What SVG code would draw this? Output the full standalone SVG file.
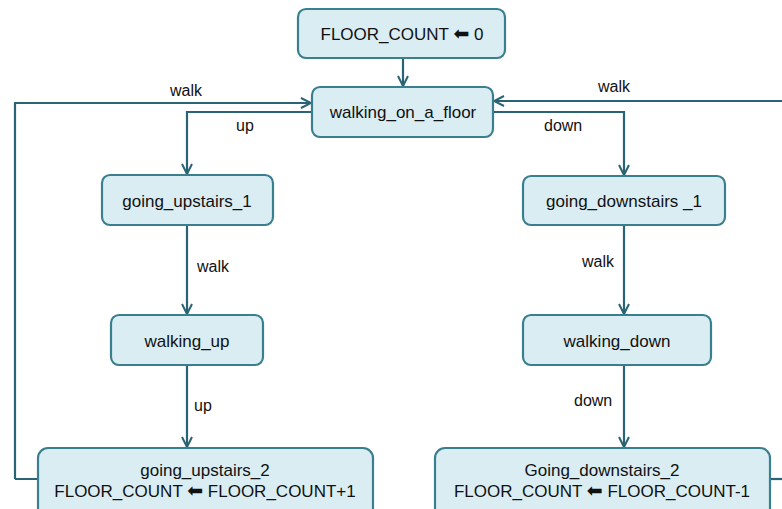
<svg xmlns="http://www.w3.org/2000/svg" width="782" height="509" viewBox="0 0 782 509">
  <style>
    .node rect { fill: #daedf3; stroke: #3a7f8e; stroke-width: 2.2; }
    .node text { font-family: "Liberation Sans", Arial, sans-serif; font-size: 17px; fill: #111; text-anchor: middle; }
    .arr { font-family: "DejaVu Sans", sans-serif; font-size: 19px; }
    .edge { fill: none; stroke: #2a6373; stroke-width: 2.2; marker-end: url(#head); }
    .plain { fill: none; stroke: #2a6373; stroke-width: 2.2; }
    .lbl { font-family: "Liberation Sans", Arial, sans-serif; font-size: 16px; fill: #111; }
  </style>
  <defs>
    <marker id="head" viewBox="0 0 12 12" refX="11" refY="6" markerWidth="12" markerHeight="12" markerUnits="userSpaceOnUse" orient="auto">
      <path d="M1,1 L11,6 L1,11" fill="none" stroke="#2a6373" stroke-width="2"/>
    </marker>
  </defs>

  <g id="connectors">
    <path class="edge" d="M403,58 V86"/>
    <path class="edge" d="M15,479 H38 M15,479 V103 H311"/>
    <path class="edge" d="M312,112 H187 V174"/>
    <path class="edge" d="M790,101 H494"/>
    <path class="plain" d="M770,479 H790"/>
    <path class="edge" d="M493,112 H624 V175"/>
    <path class="edge" d="M187,225 V314"/>
    <path class="edge" d="M187,365 V447"/>
    <path class="edge" d="M624,225 V314"/>
    <path class="edge" d="M624,365 V447"/>
    <text class="lbl" x="170" y="96">walk</text>
    <text class="lbl" x="236" y="131">up</text>
    <text class="lbl" x="598" y="92">walk</text>
    <text class="lbl" x="544" y="131">down</text>
    <text class="lbl" x="197" y="272">walk</text>
    <text class="lbl" x="582" y="267">walk</text>
    <text class="lbl" x="194" y="411">up</text>
    <text class="lbl" x="574" y="406">down</text>
  </g>

  <g id="init" class="node">
    <rect x="298" y="9" width="207" height="49" rx="8"/>
    <text x="402" y="40">FLOOR_COUNT <tspan class="arr">⬅</tspan> 0</text>
  </g>
  <g id="walking_on_a_floor" class="node">
    <rect x="312" y="87" width="181" height="50" rx="8"/>
    <text x="403" y="118">walking_on_a_floor</text>
  </g>
  <g id="going_upstairs_1" class="node">
    <rect x="102" y="175" width="171" height="50" rx="8"/>
    <text x="187" y="207">going_upstairs_1</text>
  </g>
  <g id="going_downstairs_1" class="node">
    <rect x="523" y="176" width="202" height="49" rx="8"/>
    <text x="624" y="207">going_downstairs _1</text>
  </g>
  <g id="walking_up" class="node">
    <rect x="111" y="315" width="152" height="50" rx="8"/>
    <text x="187" y="347">walking_up</text>
  </g>
  <g id="walking_down" class="node">
    <rect x="523" y="315" width="188" height="50" rx="8"/>
    <text x="617" y="347">walking_down</text>
  </g>
  <g id="going_upstairs_2" class="node">
    <rect x="38" y="448" width="335" height="75" rx="10"/>
    <text x="205" y="476">going_upstairs_2</text>
    <text x="205" y="497">FLOOR_COUNT <tspan class="arr">⬅</tspan> FLOOR_COUNT+1</text>
  </g>
  <g id="going_downstairs_2" class="node">
    <rect x="435" y="448" width="335" height="75" rx="10"/>
    <text x="602" y="476">Going_downstairs_2</text>
    <text x="602" y="497">FLOOR_COUNT <tspan class="arr">⬅</tspan> FLOOR_COUNT-1</text>
  </g>
</svg>
